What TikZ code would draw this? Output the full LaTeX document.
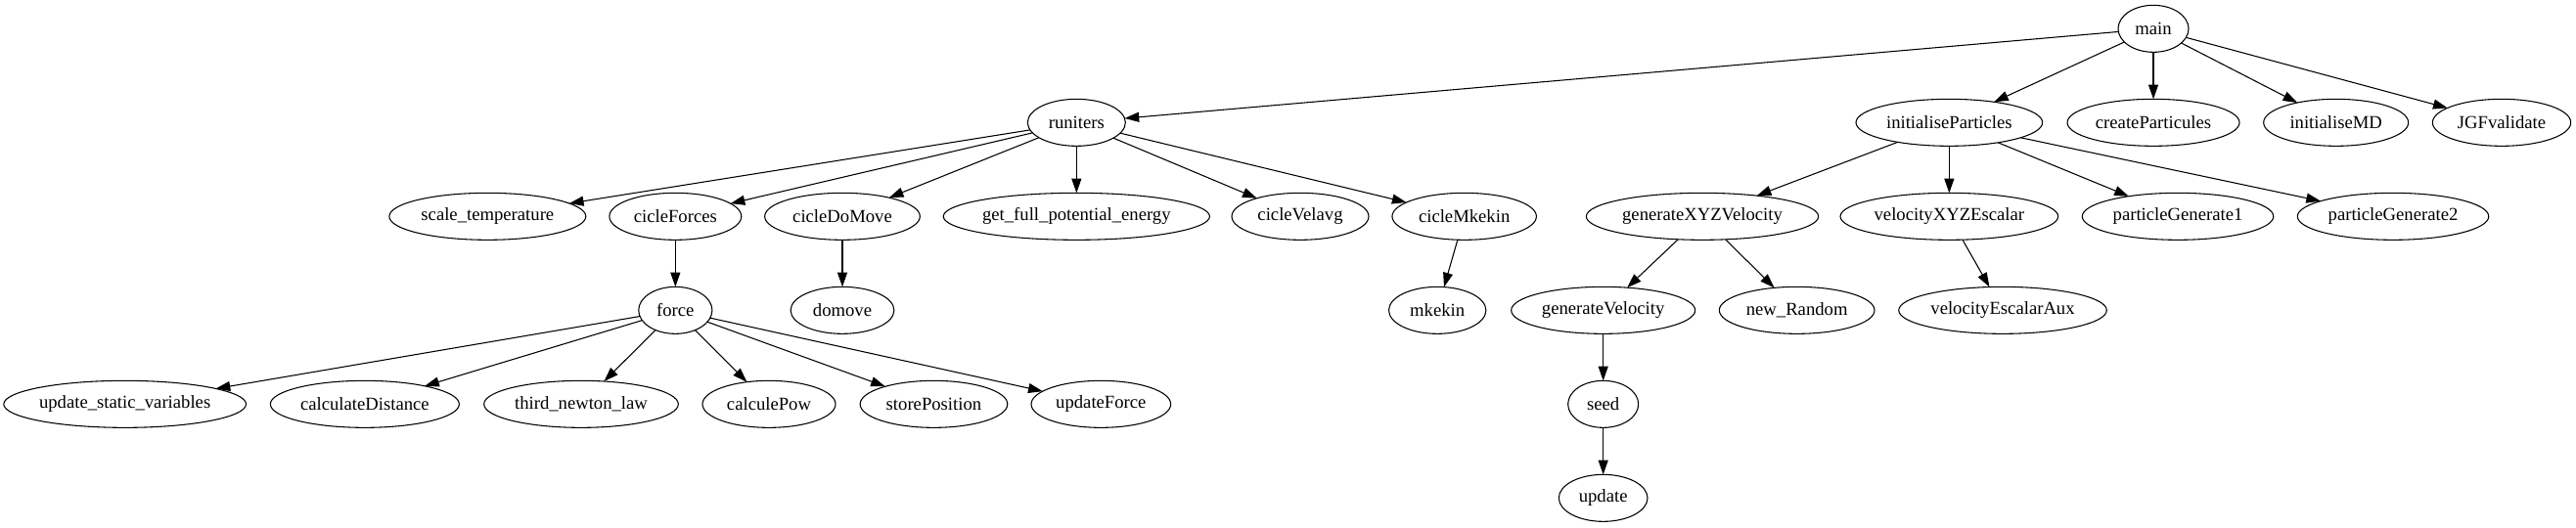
\documentclass[tikz,border=0pt]{standalone}
\usepackage{fontspec}
\setmainfont{Liberation Serif}
\usetikzlibrary{positioning}
\usetikzlibrary{arrows.meta}
\usetikzlibrary{shapes.geometric}

\begin{document}
\begin{tikzpicture}
            \tikzstyle{fn_node}=[ellipse, draw, line width=0.8pt, inner sep=0pt, outer sep=0pt, minimum width=54pt, minimum height=36pt, node distance=36pt, font=\fontsize{14pt}{16pt}\selectfont];
            \tikzstyle{call}=[line width=0.8pt, -{Triangle[length=11pt, width=7.5pt]}];

            \useasboundingbox (0,0) rectangle (1974.75pt,-404.25pt);

            % main
            \node(main) [fn_node] at (1650.75pt,-22pt) {main};
            \node(runiters) [fn_node, below = of main, xshift=-825.5pt, minimum width=75pt] {runiters};
            \node(init_particles) [fn_node, below = of main, xshift=-156.5pt, minimum width=143pt] {initialiseParticles};
            \node(create_particules) [fn_node, below = of main, minimum width=132pt] {createParticules};
            \node(init_md) [fn_node, below = of main, xshift=140pt, minimum width=111pt] {initialiseMD};
            \node(jgf_validate) [fn_node, below = of main, xshift=267pt, minimum width=106pt] {JGFvalidate};

            % runiters column
            \node(scale_temp) [fn_node, below = of runiters, xshift=-451.5pt, minimum width=150.7pt] {scale\_temperature};
            \node(cicle_forces) [fn_node, below = of runiters, xshift=-307.5pt, minimum width=101.2pt] {cicleForces};
            \node(cicle_do_move) [fn_node, below = of runiters, xshift=-179.5pt, minimum width=119pt] {cicleDoMove};
            \node(potential) [fn_node, below = of runiters, minimum width=202.3pt] {get\_full\_potential\_energy};
            \node(cicle_velavg) [fn_node, below = of runiters, xshift=171.5pt, minimum width=105pt] {cicleVelavg};
            \node(cicle_mkekin) [fn_node, below = of runiters, xshift=297.25pt, minimum width=110.6pt] {cicleMkekin};

            \node(force) [fn_node, below = of cicle_forces, minimum width=56.4pt] {force};
            \node(domove) [fn_node, below = of cicle_do_move, minimum width=79.3pt] {domove};
            \node(mkekin) [fn_node, below = of cicle_mkekin, xshift=-20.6pt, minimum width=74.5pt] {mkekin};

            % force calls
            \node(update_static) [fn_node, below = of force, xshift=-422pt, minimum width=185.7pt] {update\_static\_variables};
            \node(calc_distance) [fn_node, below = of force, xshift=-238.1pt, minimum width=144.75pt] {calculateDistance};
            \node(third_newton) [fn_node, below = of force, xshift=-72.25pt, minimum width=149pt] {third\_newton\_law};
            \node(calcule_pow) [fn_node, below = of force, xshift=71.75pt, minimum width=102pt] {calculePow};
            \node(store_position) [fn_node, below = of force, xshift=198.1pt, minimum width=113pt] {storePosition};
            \node(update_force) [fn_node, below = of force, xshift=326.25pt, minimum width=107pt] {updateForce};

            % initialiseParticles column
            \node(gen_xyz) [fn_node, below = of init_particles, xshift=-189.25pt, minimum width=178pt] {generateXYZVelocity};
            \node(velocity_xyz) [fn_node, below = of init_particles, minimum width=167pt] {velocityXYZEscalar};
            \node(particle_gen1) [fn_node, below = of init_particles, xshift=175.25pt, minimum width=146.6pt] {particleGenerate1};
            \node(particle_gen2) [fn_node, below = of init_particles, xshift=340.25pt, minimum width=146.6pt] {particleGenerate2};

            \node(gen_velocity) [fn_node, below = of gen_xyz, xshift=-76pt, minimum width=141pt] {generateVelocity};
            \node(new_random) [fn_node, below = of gen_xyz, xshift=72.5pt, minimum width=119pt] {new\_Random};
            \node(velocity_aux) [fn_node, below = of velocity_xyz, xshift=41pt, minimum width=159.4pt] {velocityEscalarAux};
            \node(seed) [fn_node, below = of gen_velocity] {seed};
            \node(update) [fn_node, below = of seed, minimum width=68pt] {update};

            % calls
            \draw[call] (main) edge (runiters);
            \draw[call] (main) edge (init_particles);
            \draw[call] (main) edge (create_particules);
            \draw[call] (main) edge (init_md);
            \draw[call] (main) edge (jgf_validate);

            \draw[call] (runiters) edge (scale_temp);
            \draw[call] (runiters) edge (cicle_forces);
            \draw[call] (runiters) edge (cicle_do_move);
            \draw[call] (runiters) edge (potential);
            \draw[call] (runiters) edge (cicle_velavg);
            \draw[call] (runiters) edge (cicle_mkekin);
            \draw[call] (cicle_forces) edge (force);
            \draw[call] (cicle_do_move) edge (domove);
            \draw[call] (cicle_mkekin) edge (mkekin);

            \draw[call] (force) edge (update_static);
            \draw[call] (force) edge (calc_distance);
            \draw[call] (force) edge (third_newton);
            \draw[call] (force) edge (calcule_pow);
            \draw[call] (force) edge (store_position);
            \draw[call] (force) edge (update_force);

            \draw[call] (init_particles) edge (gen_xyz);
            \draw[call] (init_particles) edge (velocity_xyz);
            \draw[call] (init_particles) edge (particle_gen1);
            \draw[call] (init_particles) edge (particle_gen2);
            \draw[call] (gen_xyz) edge (gen_velocity);
            \draw[call] (gen_xyz) edge (new_random);
            \draw[call] (velocity_xyz) edge (velocity_aux);
            \draw[call] (gen_velocity) edge (seed);
            \draw[call] (seed) edge (update);
        \end{tikzpicture}
\end{document}
